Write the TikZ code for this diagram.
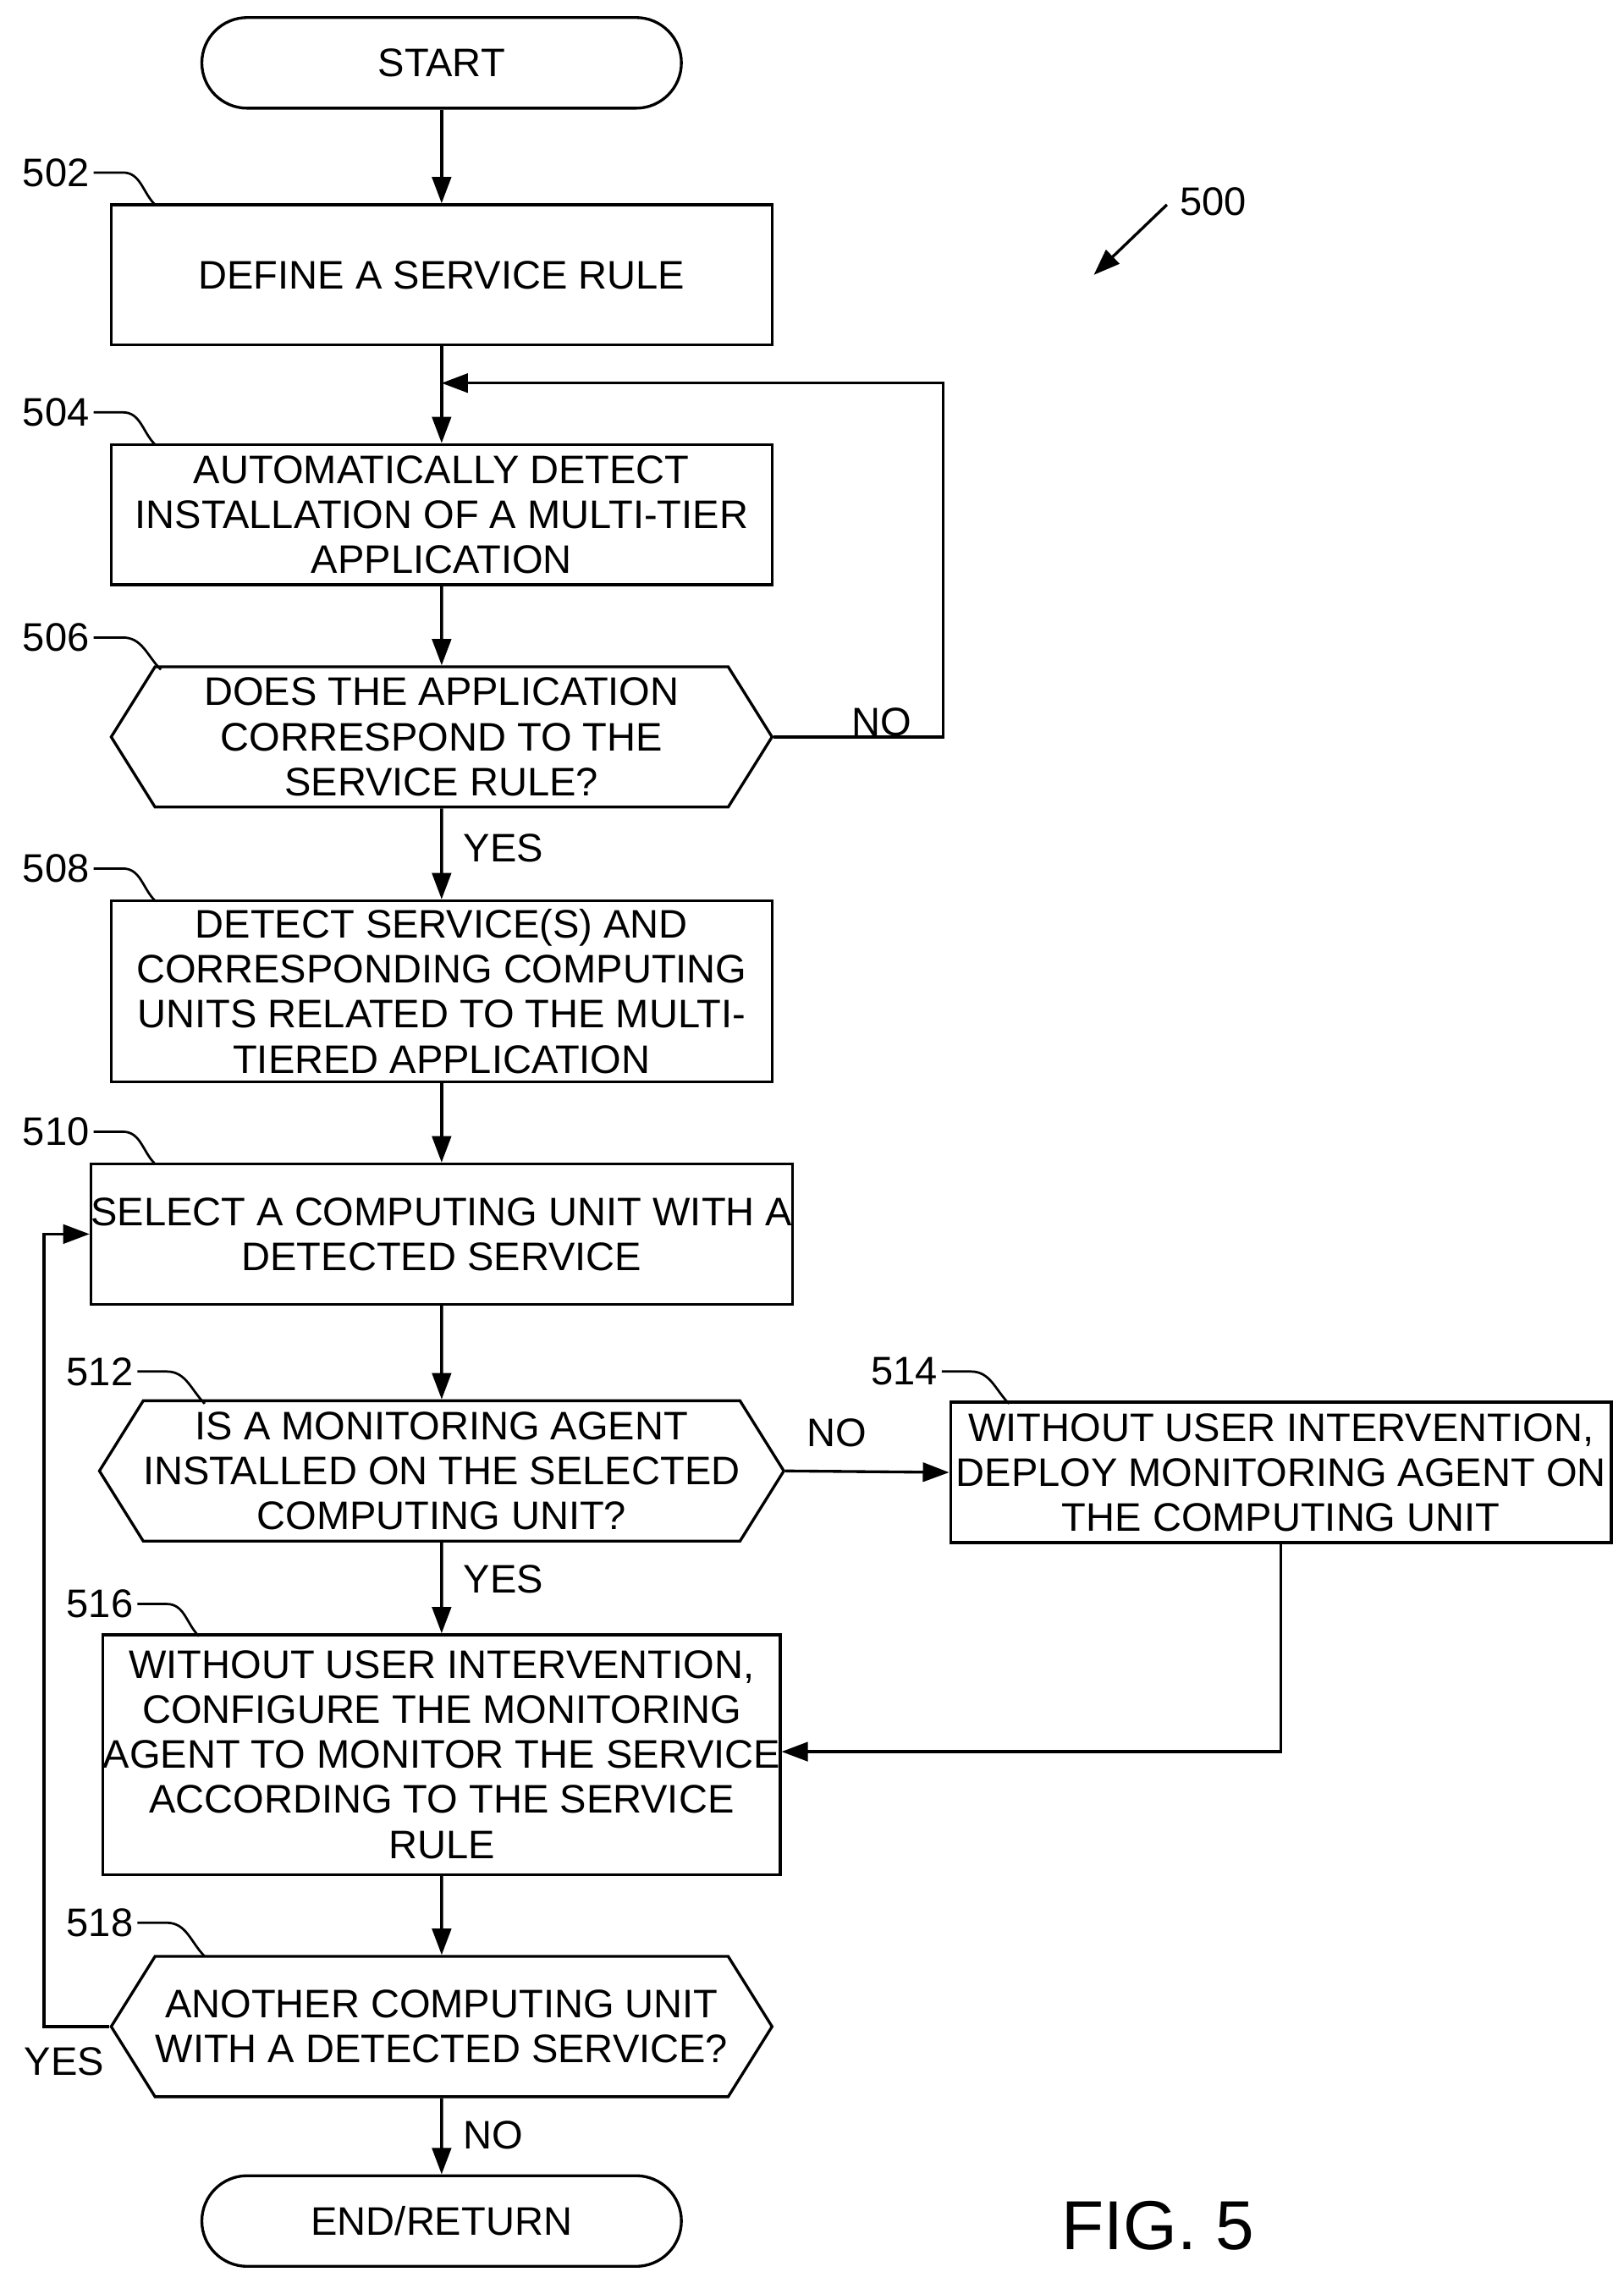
\documentclass[tikz,border=0pt]{standalone}
\usepackage{fontspec}
\setmainfont{Liberation Sans}
\usetikzlibrary{shapes.symbols,arrows.meta}

\begin{document}
\begin{tikzpicture}[x=0.02cm,y=-0.02cm,line width=1.1pt,
  every node/.style={font=\fontsize{15.5}{17.5}\selectfont,align=center,inner sep=0pt},
  box/.style={draw,minimum width=9.04cm,minimum height=1.92cm},
  term/.style={draw,rounded corners=0.62cm,minimum width=6.56cm,minimum height=1.24cm},
  hex/.style={draw,shape=signal,signal to=west and east,signal pointer angle=116,minimum width=9.04cm,minimum height=1.92cm},
  ref/.style={anchor=east},
  flow/.style={-{Triangle[length=0.36cm,width=0.26cm]}}]
\useasboundingbox (0,0) rectangle (1110,1561.4);
% steps
\node [term] (start) at (302,43) {START};
\node [box] (s502) at (302,188) {DEFINE A SERVICE RULE};
\node [box] (s504) at (302,352) {AUTOMATICALLY DETECT\\INSTALLATION OF A MULTI-TIER\\APPLICATION};
\node [hex] (s506) at (302,504) {DOES THE APPLICATION\\CORRESPOND TO THE\\SERVICE RULE?};
\node [box,minimum height=2.48cm] (s508) at (302,678) {DETECT SERVICE(S) AND\\CORRESPONDING COMPUTING\\UNITS RELATED TO THE MULTI-\\TIERED APPLICATION};
\node [box] (s510) at (302,844) {SELECT A COMPUTING UNIT WITH A\\DETECTED SERVICE};
\node [hex] (s512) at (302,1006) {IS A MONITORING AGENT\\INSTALLED ON THE SELECTED\\COMPUTING UNIT?};
\node [box] (s514) at (876,1007) {WITHOUT USER INTERVENTION,\\DEPLOY MONITORING AGENT ON\\THE COMPUTING UNIT};
\node [box,minimum width=8.88cm,minimum height=3.28cm] (s516) at (302,1200) {WITHOUT USER INTERVENTION,\\CONFIGURE THE MONITORING\\AGENT TO MONITOR THE SERVICE\\ACCORDING TO THE SERVICE\\RULE};
\node [hex] (s518) at (302,1386) {ANOTHER COMPUTING UNIT\\WITH A DETECTED SERVICE?};
\node [term] (end) at (302,1519) {END/RETURN};
% reference numerals
\foreach \n/\x/\y/\tx/\ty in {502/62/118/106/140, 504/62/282/106/304, 506/62/436/110/458, 508/62/594/106/616,
  510/62/774/106/796, 512/92/938/140/960, 516/92/1097/136/1119, 518/92/1315/140/1338, 514/642/938/690/960}{
  \node [ref] (r\n) at (\x,\y) {\n};
  \draw [line width=0.9pt] (\x+2,\y) -- (\x+22,\y) to[out=0,in=135] (\tx,\ty);
}
\node [anchor=west] (r500) at (806,138) {500};
\draw [flow] (798,140) -- (748,188);
\node [font=\fontsize{27}{30}\selectfont] (fig) at (792,1522) {FIG. 5};
% connectors
\draw [flow] (start) -- (s502);
\draw [flow] (s502) -- (s504);
\draw [flow] (s504) -- (s506);
\draw [flow] (s506.east) -- (645,504) -- (645,262) -- (302,262);
\node (no1) at (603,494) {NO};
\draw [flow] (s506) -- (s508);
\node [anchor=west] (yes1) at (316,580) {YES};
\draw [flow] (s508) -- (s510);
\draw [flow] (s510) -- (s512);
\draw [flow] (s512.east) -- (s514.west);
\node (no2) at (572,980) {NO};
\draw [flow] (s512) -- (s516);
\node [anchor=west] (yes2) at (316,1080) {YES};
\draw [flow] (s514.south) -- (876,1198) -- (s516.east |- 876,1198);
\draw [flow] (s516) -- (s518);
\draw [flow] (s518.west) -- (30,1386) -- (30,844) -- (s510.west);
\node (yes3) at (44,1410) {YES};
\draw [flow] (s518) -- (end);
\node [anchor=west] (no3) at (316,1460) {NO};
\end{tikzpicture}
\end{document}
